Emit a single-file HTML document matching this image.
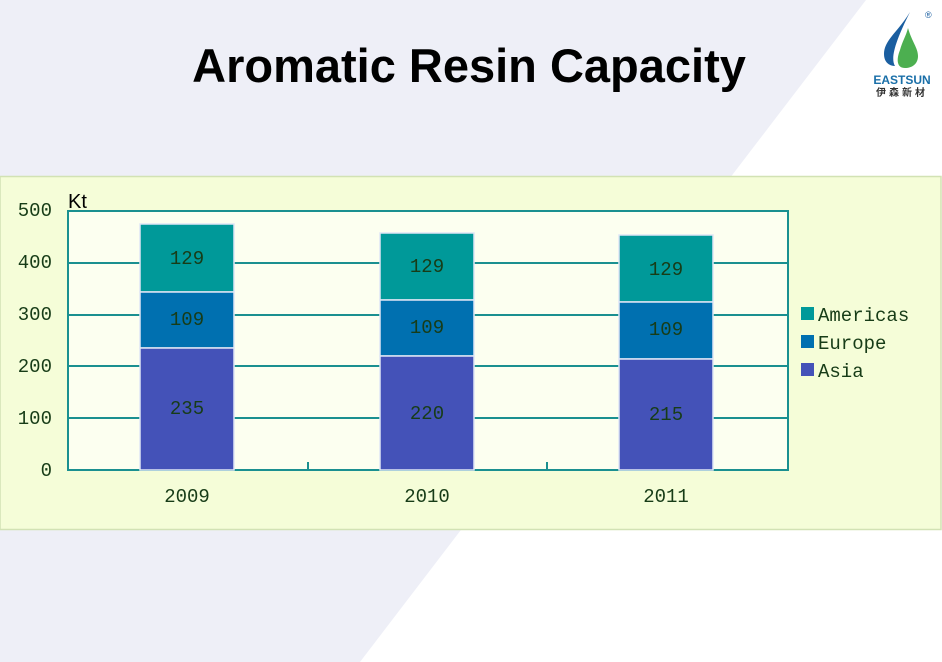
<!DOCTYPE html>
<html><head><meta charset="utf-8"><style>
html,body{margin:0;padding:0;width:942px;height:662px;overflow:hidden;background:#fff}
</style></head><body>
<svg width="942" height="662" viewBox="0 0 942 662" xmlns="http://www.w3.org/2000/svg" font-family="Liberation Mono, monospace">
<polygon points="0,0 866,0 360,662 0,662" fill="#eeeff7"/>
<text x="469" y="82" text-anchor="middle" font-family="Liberation Sans, sans-serif" font-weight="bold" font-size="47" fill="#000">Aromatic Resin Capacity</text>
<path d="M910,12 C898,32 884,40 884,54 C884,63 890,66 895,66 C890,58 896,40 910,12Z" fill="#1a5ea0"/>
<path d="M908,28 C912,42 918,48 918,56 C918,64 912,68 905,68 C897,68 896,60 900,50 C902,42 906,36 908,28Z" fill="#4caf50"/>
<text x="925" y="18" font-family="Liberation Sans, sans-serif" font-size="9" fill="#1a5ea0">®</text>
<text x="902" y="84" text-anchor="middle" font-family="Liberation Sans, sans-serif" font-weight="bold" font-size="12" fill="#1a6fa8">EASTSUN</text>
<text x="902" y="96" text-anchor="middle" font-family="Noto Sans CJK SC, sans-serif" font-weight="bold" font-size="10" fill="#333" letter-spacing="3">伊森新材</text>
<rect x="0" y="176.5" width="941" height="353" fill="#f5fdd8" stroke="#d2e2b4" stroke-width="1.5"/>
<rect x="68" y="211" width="720" height="259" fill="#fcfff0" stroke="#1a9090" stroke-width="2"/>
<g stroke="#1a9090" stroke-width="2">
<line x1="68" y1="263" x2="788" y2="263"/>
<line x1="68" y1="315" x2="788" y2="315"/>
<line x1="68" y1="366" x2="788" y2="366"/>
<line x1="68" y1="418" x2="788" y2="418"/>
<line x1="308" y1="462" x2="308" y2="470"/>
<line x1="547" y1="462" x2="547" y2="470"/>
</g>
<g stroke="#dfe6f5" stroke-width="1.5">
<rect x="140" y="224" width="94" height="68" fill="#009999"/>
<rect x="140" y="292" width="94" height="56" fill="#0070b0"/>
<rect x="140" y="348" width="94" height="122" fill="#4452b8"/>
<rect x="380" y="233" width="94" height="67" fill="#009999"/>
<rect x="380" y="300" width="94" height="56" fill="#0070b0"/>
<rect x="380" y="356" width="94" height="114" fill="#4452b8"/>
<rect x="619" y="235" width="94" height="67" fill="#009999"/>
<rect x="619" y="302" width="94" height="57" fill="#0070b0"/>
<rect x="619" y="359" width="94" height="111" fill="#4452b8"/>
</g>
<g font-size="19" fill="#173c17" text-anchor="middle">
<text x="187" y="264">129</text><text x="187" y="325">109</text><text x="187" y="414">235</text>
<text x="427" y="272">129</text><text x="427" y="333">109</text><text x="427" y="419">220</text>
<text x="666" y="275">129</text><text x="666" y="335">109</text><text x="666" y="420">215</text>
<text x="187" y="502">2009</text><text x="427" y="502">2010</text><text x="666" y="502">2011</text>
</g>
<g font-size="19" fill="#173c17" text-anchor="end">
<text x="52" y="216">500</text><text x="52" y="268">400</text><text x="52" y="320">300</text>
<text x="52" y="372">200</text><text x="52" y="424">100</text><text x="52" y="476">0</text>
</g>
<text x="68" y="208" font-family="Liberation Sans, sans-serif" font-size="20" fill="#000">Kt</text>
<rect x="801" y="307" width="13" height="13" fill="#009999"/>
<rect x="801" y="335" width="13" height="13" fill="#0070b0"/>
<rect x="801" y="363" width="13" height="13" fill="#4452b8"/>
<g font-size="19" fill="#173c17">
<text x="818" y="321">Americas</text><text x="818" y="349">Europe</text><text x="818" y="377">Asia</text>
</g>
</svg>
</body></html>
